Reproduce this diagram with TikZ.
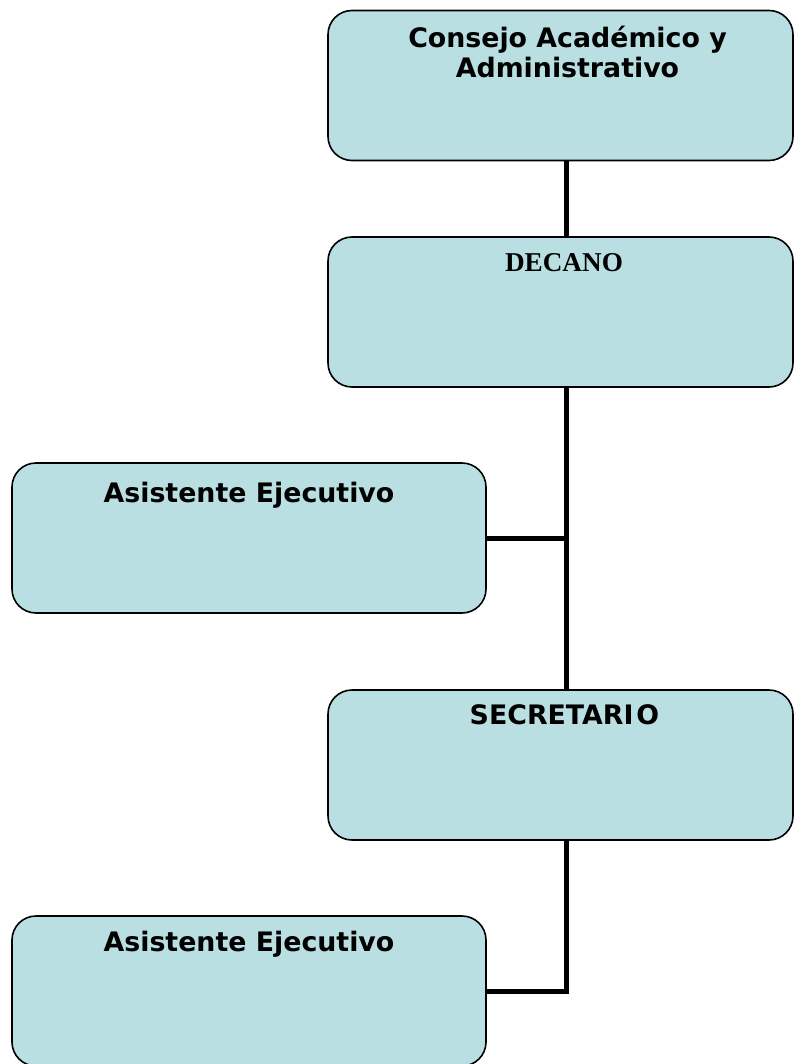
\documentclass[tikz,border=0pt]{standalone}
\usepackage{fontspec}
\setmainfont{DejaVu Sans}
\newfontfamily\titlefont{DejaVu Sans}[BoldFont={DejaVu Sans Bold}]
\newfontfamily\serifbold{Liberation Serif}[BoldFont={Liberation Serif Bold}]
\definecolor{boxfill}{RGB}{185,223,226}
\begin{document}
\begin{tikzpicture}[x=1pt,y=-1pt,
  orgbox/.style={draw=black, line width=1.6pt, fill=boxfill, rounded corners=24pt,
    rectangle, inner sep=0pt, minimum height=150pt},
  rightbox/.style={orgbox, minimum width=465pt},
  leftbox/.style={orgbox, minimum width=474pt},
  caption/.style={anchor=base, inner sep=0pt, font=\titlefont\bfseries\fontsize{26.8}{30}\selectfont},
  link/.style={line width=5pt, black}]
  % page
  \useasboundingbox (0,0) rectangle (794,1064);
  \fill[white] (0,0) rectangle (794,1064);

  % boxes
  \node[rightbox] (consejo) at (560.5,85.5) {};
  \node[rightbox] (decano)  at (560.5,312) {};
  \node[leftbox]  (asis1)   at (249,538) {};
  \node[rightbox] (secre)   at (560.5,765) {};
  \node[leftbox]  (asis2)   at (249,991) {};

  % vertical spine of the chart
  \coordinate (spine) at (566.5,0);

  % connectors
  \draw[link] (consejo.south -| spine) -- (decano.north -| spine);
  \draw[link] (decano.south -| spine) -- (secre.north -| spine);
  \draw[link] (asis1.east) -- (asis1.east -| spine);
  \draw[link] (secre.south -| spine) -- (asis2.east -| spine) -- (asis2.east);

  % captions
  \node[caption] (consejo-t1) at ([xshift=7pt,yshift=-38pt]consejo.north) {Consejo Académico y};
  \node[caption] (consejo-t2) at ([xshift=7pt,yshift=-68pt]consejo.north) {Administrativo};
  \node[caption, font=\serifbold\bfseries\fontsize{27.2}{30}\selectfont] (decano-t) at ([xshift=3.5pt,yshift=-35pt]decano.north) {DECANO};
  \node[caption] (asis1-t) at ([yshift=-40pt]asis1.north) {Asistente Ejecutivo};
  \node[caption] (secre-t) at ([xshift=4pt,yshift=-35pt]secre.north) {SECRETARI\kern3pt O};
  \node[caption] (asis2-t) at ([yshift=-36pt]asis2.north) {Asistente Ejecutivo};
\end{tikzpicture}
\end{document}
